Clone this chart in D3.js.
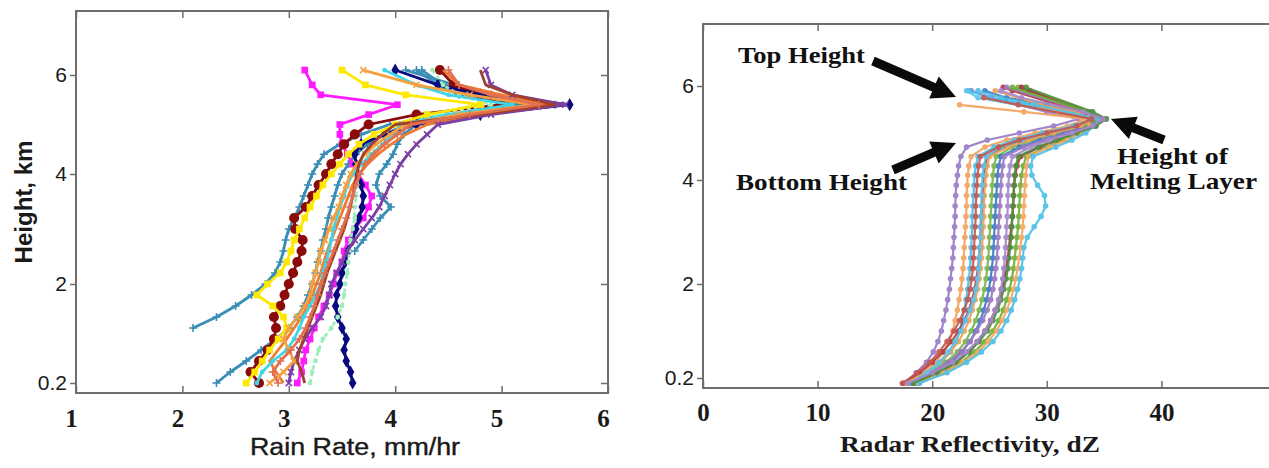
<!DOCTYPE html>
<html>
<head>
<meta charset="utf-8">
<script src="https://cdn.jsdelivr.net/npm/d3@7"></script>
<style>
  body { margin: 0; background: #fff; }
</style>
</head>
<body>
<svg id="chart" width="1269" height="468"></svg>
<script>
// ---- data ----
const heightTicks = [0.2, 2, 4, 6];
const rainTicks = [1, 2, 3, 4, 5, 6];
const reflTicks = [0, 10, 20, 30, 40];

// left panel: rain rate (mm/hr) at common height levels (km); null = no sample
const levelsL = [0.2, 0.4, 0.6, 0.8, 1.0, 1.2, 1.4, 1.6, 1.8, 2.0, 2.2, 2.4, 2.6, 2.8, 3.0,
  3.2, 3.4, 3.6, 3.8, 4.0, 4.2, 4.4, 4.6, 4.8, 5.0, 5.2, 5.4, 5.6, 5.8, 6.1];

const rainSeries = [
  [2.32, 2.45, 2.6, 2.74, 2.88, 3.0, 3.08, 3.14, 3.18, 3.22, 3.25, 3.27, 3.3, 3.32, 3.35, 3.37, 3.4, 3.43, 3.46, 3.5, 3.56, 3.63, 3.74, 3.9, 4.1, 4.55, 5.25, 4.7, 4.45, 4.25],
  [null, null, null, null, null, 2.1, 2.32, 2.5, 2.65, 2.78, 2.87, 2.92, 2.95, 2.97, 3.0, 3.05, 3.1, 3.14, 3.18, 3.22, 3.27, 3.33, 3.48, 3.68, 3.95, 4.5, 5.2, 4.6, 4.4, 4.2],
  [null, null, null, null, null, null, null, null, null, null, null, null, 3.62, 3.7, 3.78, 3.86, 3.96, 3.86, 3.82, 3.85, 3.92, 3.98, 4.02, 4.08, 4.2, 4.7, 5.5, 4.9, 4.55, 4.1],
  [3.08, 3.12, 3.14, 3.16, 3.2, 3.24, 3.28, 3.33, 3.38, 3.42, 3.45, 3.5, 3.52, 3.56, 3.62, 3.7, 3.75, 3.78, 3.72, 3.65, 3.6, 3.55, 3.5, 3.48, 3.48, 3.75, 4.02, 3.3, 3.22, 3.15],
  [2.72, 2.64, 2.72, 2.8, 2.86, 2.88, 2.86, 2.92, 2.96, 3.0, 3.04, 3.08, 3.12, 3.13, 3.06, 3.05, 3.16, 3.22, 3.28, 3.35, 3.4, 3.46, 3.52, 3.62, 3.75, 4.2, 5.0, 4.8, 4.55, 4.42],
  [3.6, 3.58, 3.54, 3.52, 3.54, 3.5, 3.46, 3.44, 3.45, 3.48, 3.5, 3.53, 3.56, 3.6, 3.63, 3.66, 3.69, 3.7, 3.68, 3.65, 3.63, 3.62, 3.68, 3.9, 4.2, 4.8, 5.64, 4.8, 4.4, 4.0],
  [3.2, 3.22, 3.25, 3.28, 3.32, 3.4, 3.46, 3.5, 3.52, 3.53, 3.55, 3.56, 3.57, 3.58, 3.6, 3.62, 3.62, 3.63, 3.64, 3.66, 3.7, 3.76, 3.88, 4.0, 4.1, 4.4, 4.9, 4.6, 4.45, 4.35],
  [2.6, 2.68, 2.75, 2.82, 2.9, 2.98, 2.95, 2.85, 2.7, 2.8, 2.92, 2.98, 3.02, 3.05, 3.1, 3.15, 3.2, 3.26, 3.32, 3.4, 3.48, 3.56, 3.66, 3.8, 4.0, 4.3, 4.8, 4.1, 3.72, 3.5],
  [2.95, 2.88, 2.82, 2.9, 2.98, 3.05, 3.12, 3.18, 3.22, 3.26, 3.3, 3.33, 3.36, 3.4, 3.44, 3.48, 3.52, 3.56, 3.6, 3.66, 3.74, 3.84, 3.96, 4.1, 4.3, 4.8, 5.42, 5.0, 4.6, 4.45],
  [3.0, 3.02, 3.05, 3.1, 3.15, 3.22, 3.3, 3.35, 3.38, 3.4, 3.45, 3.5, 3.55, 3.62, 3.7, 3.78, 3.85, 3.9, 3.95, 4.0, 4.05, 4.12, 4.2, 4.3, 4.4, 4.9, 5.6, 5.1, 4.9, 4.85],
  [2.7, 2.75, 2.85, 2.98, 3.05, 3.1, 3.14, 3.2, 3.25, 3.3, 3.32, 3.35, 3.38, 3.4, 3.42, 3.45, 3.48, 3.52, 3.55, 3.6, 3.68, 3.78, 3.88, 3.98, 4.05, 4.5, 5.1, 4.5, 4.2, 3.9],
  [2.82, 2.95, 3.05, 3.0, 2.95, 3.0, 3.08, 3.15, 3.2, 3.22, 3.25, 3.28, 3.3, 3.34, 3.38, 3.42, 3.47, 3.5, 3.54, 3.58, 3.64, 3.72, 3.82, 3.95, 4.1, 4.6, 5.3, 4.7, 4.2, 3.7],
  [3.15, 3.12, 3.08, 3.1, 3.14, 3.18, 3.22, 3.26, 3.3, 3.33, 3.36, 3.4, 3.44, 3.48, 3.52, 3.55, 3.58, 3.6, 3.62, 3.64, 3.66, 3.7, 3.78, 3.88, 4.0, 4.8, 5.5, 5.1, 4.85, 4.8],
  [2.9, 2.85, 2.92, 3.02, 3.1, 3.16, 3.2, 3.24, 3.27, 3.3, 3.34, 3.38, 3.42, 3.46, 3.5, 3.54, 3.57, 3.6, 3.63, 3.67, 3.72, 3.8, 3.9, 4.02, 4.15, 4.7, 5.35, 4.9, 4.6, 4.5]
];
const rainColors = ['#3a8db5', '#3a8db5', '#3a8db5', '#ff1aff', '#8b0a0a', '#0a0a80', '#9eeebc',
  '#ffe800', '#f07a30', '#7b3fa5', '#40d4e8', '#f5a040', '#a0402d', '#e07050'];
const rainMarkers = ['plus', 'plus', 'plus', 'square', 'circle', 'diamond', 'dot',
  'square', 'none', 'x', 'dot', 'x', 'none', 'plus'];

// right panel: reflectivity (dBZ) at common height levels (km); null = no sample
const levelsR = [0.1, 0.3, 0.5, 0.7, 0.9, 1.1, 1.3, 1.5, 1.7, 1.9, 2.1, 2.3, 2.5, 2.7, 2.9, 3.1,
  3.3, 3.5, 3.7, 3.9, 4.1, 4.3, 4.5, 4.7, 4.85, 5.0, 5.15, 5.3, 5.45, 5.6, 5.75, 5.9, 5.97];

const reflSeries = [
  [17.6, 18.6, 19.5, 20.1, 20.5, 20.8, 21.0, 21.2, 21.35, 21.5, 21.6, 21.7, 21.8, 21.85, 21.9, 21.95, 22.0, 22.0, 22.05, 22.1, 22.2, 22.3, 22.5, 23.0, 24.8, 27.6, 30.6, 32.8, 30.0, null, 25.2, 23.4, null],
  [17.8, 19.2, 20.3, 21.0, 21.5, 21.8, 22.0, 22.2, 22.35, 22.5, 22.6, 22.7, 22.75, 22.8, 22.85, 22.9, 22.95, 23.0, 23.0, 23.05, 23.1, 23.2, 23.4, 24.6, 26.5, 29.0, 31.8, 33.5, 28.0, 22.4, null, null, null],
  [18.0, 19.6, 20.8, 21.6, 22.1, 22.4, 22.6, 22.8, 22.95, 23.1, 23.2, 23.3, 23.35, 23.4, 23.45, 23.5, 23.5, 23.55, 23.6, 23.65, 23.7, 23.8, 24.0, 25.4, 27.2, 29.6, 32.3, 33.8, null, 28.5, 25.0, 23.2, null],
  [17.5, 18.9, 20.0, 20.9, 21.7, 22.3, 22.8, 23.2, 23.5, 23.7, 23.85, 24.0, 24.1, 24.15, 24.2, 24.25, 24.3, 24.35, 24.4, 24.45, 24.5, 24.6, 24.8, 26.2, 28.0, 30.4, 32.8, 34.2, 33.0, null, null, 27.0, 26.2],
  [18.2, 19.8, 21.2, 22.2, 22.9, 23.4, 23.8, 24.1, 24.35, 24.55, 24.7, 24.8, 24.9, 24.95, 25.0, 25.05, 25.1, 25.15, 25.2, 25.25, 25.3, 25.4, 25.6, 27.0, 28.8, 31.0, 33.3, 34.6, 33.8, null, null, null, 27.5],
  [18.4, 20.2, 21.6, 22.6, 23.3, 23.8, 24.2, 24.5, 24.75, 24.95, 25.1, 25.2, 25.3, 25.35, 25.4, 25.45, 25.5, 25.55, 25.6, 25.65, 25.7, 25.8, 26.0, 27.6, 29.4, 31.5, 33.6, 34.8, null, 30.0, 26.5, 24.6, null],
  [17.7, 19.4, 20.7, 21.6, 22.3, 22.8, 23.2, 23.5, 23.75, 23.95, 24.1, 24.2, 24.3, 24.35, 24.4, 24.45, 24.5, 24.5, 24.55, 24.6, 24.7, 24.8, 25.0, 26.6, 28.4, 30.6, 33.0, 34.4, 32.5, 29.5, null, 25.5, null],
  [18.0, 19.9, 21.4, 22.5, 23.3, 23.9, 24.4, 24.8, 25.1, 25.3, 25.45, 25.55, 25.65, 25.7, 25.75, 25.8, 25.85, 25.9, 25.95, 26.0, 26.05, 26.15, 26.3, 28.0, 29.8, 31.8, 33.8, 35.0, 33.5, null, null, null, 26.5],
  [18.1, 19.5, 20.6, 21.4, 22.0, 22.5, 22.9, 23.3, 23.6, 23.8, 23.95, 24.05, 24.1, 24.15, 24.2, 24.2, 24.25, 24.3, 24.3, 24.35, 24.4, 24.5, 24.7, 26.0, 27.8, 30.0, 32.5, 34.0, null, null, 24.0, 23.0, null],
  [18.5, 20.6, 22.1, 23.2, 24.0, 24.6, 25.1, 25.5, 25.85, 26.1, 26.3, 26.45, 26.6, 26.7, 26.8, 26.9, 27.0, 27.05, 27.1, 27.15, 27.25, 27.4, 27.7, 29.4, 31.0, 32.8, 34.2, 34.8, 33.4, null, null, 28.5, 27.8],
  [18.6, 20.8, 22.5, 23.7, 24.6, 25.3, 25.8, 26.2, 26.5, 26.75, 26.95, 27.1, 27.2, 27.3, 27.4, 27.5, 27.55, 27.6, 27.65, 27.7, 27.8, 27.95, 28.2, 30.0, 31.5, 32.8, 33.6, 34.2, 33.6, null, null, null, 27.0],
  [18.8, 21.0, 22.7, 24.0, 24.9, 25.6, 26.1, 26.5, 26.85, 27.1, 27.3, 27.45, 27.6, 27.7, 27.8, 27.9, 27.95, 28.0, 28.05, 28.1, 28.15, 28.25, 28.4, 30.2, 31.8, 33.0, 33.8, 33.2, 31.0, 29.0, null, null, null],
  [18.9, 21.3, 23.0, 24.3, 25.3, 26.0, 26.5, 26.9, 27.2, 27.45, 27.65, 27.8, 27.9, 28.0, 28.3, 28.9, 29.5, 29.9, 29.8, 29.2, 28.7, 28.6, 28.8, 30.8, 32.2, 33.4, 34.2, 34.5, null, 29.0, 26.0, 24.0, null],
  [18.3, 20.4, 22.0, 23.2, 24.1, 24.8, 25.3, 25.7, 26.0, 26.25, 26.45, 26.6, 26.7, 26.8, 26.9, 26.95, 27.0, 27.05, 27.1, 27.15, 27.2, 27.3, 27.5, 29.2, 30.8, 32.6, 34.3, 35.2, 34.0, null, null, null, 28.2],
  [17.4, 18.7, 19.8, 20.6, 21.3, 21.9, 22.4, 22.8, 23.1, 23.3, 23.45, 23.55, 23.6, 23.65, 23.7, 23.75, 23.8, 23.8, 23.85, 23.9, 23.95, 24.05, 24.2, 25.8, 27.6, 30.0, 32.6, 33.9, null, 27.5, 24.5, null, null],
  [17.9, 20.0, 21.8, 23.0, 23.9, 24.6, 25.1, 25.5, 25.8, 26.0, 26.15, 26.25, 26.35, 26.4, 26.45, 26.5, 26.55, 26.6, 26.6, 26.65, 26.7, 26.8, 27.0, 28.6, 30.2, 32.2, 34.0, 34.9, 33.2, null, 27.8, 26.0, null]
];
const reflColors = ['#9a7cc6', '#f2a35e', '#4dbde9', '#b23a3f', '#7ab648', '#3c7dc4', '#f0a055', '#9b79c2',
  '#5cc5ec', '#a8323a', '#6fae3c', '#f4a962', '#4ebfe8', '#4f8f3e', '#c4564f', '#a588cc'];

// ---- drawing ----
const svg = d3.select('#chart');
const sans = '"Liberation Sans", Arial, sans-serif';
const serif = '"Liberation Serif", "Times New Roman", serif';
const frameColor = '#6e6e6e';

// custom stroke symbols (MATLAB-like + and x markers)
const plusType = {
  draw(ctx, size) {
    const r = Math.sqrt(size) / 2;
    ctx.moveTo(-r, 0); ctx.lineTo(r, 0);
    ctx.moveTo(0, -r); ctx.lineTo(0, r);
  }
};
const timesType = {
  draw(ctx, size) {
    const r = Math.sqrt(size) / 2.6;
    ctx.moveTo(-r, -r); ctx.lineTo(r, r);
    ctx.moveTo(-r, r); ctx.lineTo(r, -r);
  }
};

function arrowPath(x1, y1, x2, y2, sw, hl, hw) {
  const len = Math.hypot(x2 - x1, y2 - y1);
  const ux = (x2 - x1) / len, uy = (y2 - y1) / len;
  const nx = -uy, ny = ux;
  const bx = x2 - ux * hl, by = y2 - uy * hl;
  const pts = [
    [x1 + nx * sw / 2, y1 + ny * sw / 2],
    [bx + nx * sw / 2, by + ny * sw / 2],
    [bx + nx * hw / 2, by + ny * hw / 2],
    [x2, y2],
    [bx - nx * hw / 2, by - ny * hw / 2],
    [bx - nx * sw / 2, by - ny * sw / 2],
    [x1 - nx * sw / 2, y1 - ny * sw / 2]
  ];
  return 'M' + pts.map(p => p.join(',')).join('L') + 'Z';
}

function frameAxes(g, x, y, box, xTicks, opts) {
  const fmt = d3.format('~g');
  g.append('rect')
    .attr('x', box.left).attr('y', box.top)
    .attr('width', box.right - box.left).attr('height', box.bottom - box.top)
    .attr('fill', 'none').attr('stroke', frameColor).attr('stroke-width', 2);

  // inward tick marks
  const inner = [
    [d3.axisBottom(x).tickValues(xTicks), `translate(0,${box.bottom})`],
    [d3.axisTop(x).tickValues(xTicks), `translate(0,${box.top})`],
    [d3.axisRight(y).tickValues(heightTicks), `translate(${box.right},0)`]
  ];
  inner.forEach(([ax, tr]) => {
    const a = g.append('g').attr('transform', tr)
      .call(ax.tickSize(-7).tickFormat(''));
    a.select('.domain').remove();
    a.selectAll('line').attr('stroke', frameColor).attr('stroke-width', 1.5);
  });

  // left axis: outward ticks with labels
  const yAx = g.append('g').attr('transform', `translate(${box.left},0)`)
    .call(d3.axisLeft(y).tickValues(heightTicks).tickSize(6).tickPadding(3).tickFormat(fmt));
  yAx.select('.domain').remove();
  yAx.selectAll('line').attr('stroke', frameColor).attr('stroke-width', 1.5);
  yAx.selectAll('text')
    .attr('font-family', sans).attr('font-size', 21).attr('fill', '#1a1a1a');

  // bottom tick labels (bold serif)
  const xAx = g.append('g').attr('transform', `translate(0,${box.bottom})`)
    .call(d3.axisBottom(x).tickValues(xTicks).tickSize(0).tickPadding(opts.labelPad).tickFormat(fmt));
  xAx.select('.domain').remove();
  xAx.selectAll('text')
    .attr('font-family', serif).attr('font-weight', 'bold').attr('font-size', 25)
    .attr('fill', '#1a1a1a').attr('dx', opts.labelDx);
}

// ---------- left panel ----------
const boxL = { left: 76, right: 608, top: 11, bottom: 393 };
const xL = d3.scaleLinear().domain([1, 6]).range([boxL.left, boxL.right]);
const yL = d3.scaleLinear().domain(heightTicks).range([383, 284, 174, 75]);

const gL = svg.append('g');
frameAxes(gL, xL, yL, boxL, rainTicks, { labelPad: 16, labelDx: -5 });

const lineL = d3.line().x(d => xL(d[0])).y(d => yL(d[1]));

rainSeries.forEach((vals, i) => {
  const pts = vals.map((v, j) => [v, levelsL[j]]).filter(d => d[0] != null);
  const color = rainColors[i];
  const mk = rainMarkers[i];
  const sg = gL.append('g');
  sg.append('path')
    .attr('d', lineL(pts))
    .attr('fill', 'none')
    .attr('stroke', color)
    .attr('stroke-width', 2.8)
    .attr('stroke-dasharray', i === 6 ? '4,3' : null)
    .attr('stroke-linejoin', 'round');
  if (mk === 'none') return;
  const sym = d3.symbol();
  if (mk === 'plus') sym.type(plusType).size(64);
  else if (mk === 'x') sym.type(timesType).size(64);
  else if (mk === 'circle') sym.type(d3.symbolCircle).size(80);
  else if (mk === 'diamond') sym.type(d3.symbolDiamond).size(50);
  else if (mk === 'square') sym.type(d3.symbolSquare).size(45);
  else sym.type(d3.symbolCircle).size(18);
  const stroked = mk === 'plus' || mk === 'x';
  sg.selectAll('path.mk')
    .data(pts)
    .join('path')
    .attr('class', 'mk')
    .attr('transform', d => `translate(${xL(d[0])},${yL(d[1])})`)
    .attr('d', sym)
    .attr('fill', stroked ? 'none' : color)
    .attr('stroke', stroked ? color : 'none')
    .attr('stroke-width', 1.6);
});

gL.append('text')
  .attr('transform', 'translate(32,202) rotate(-90)')
  .attr('text-anchor', 'middle')
  .attr('font-family', sans).attr('font-weight', 'bold').attr('font-size', 24)
  .attr('fill', '#1a1a1a')
  .attr('textLength', 123).attr('lengthAdjust', 'spacingAndGlyphs')
  .text('Height, km');

gL.append('text')
  .attr('x', 250).attr('y', 455)
  .attr('font-family', sans).attr('font-size', 23).attr('fill', '#1a1a1a')
  .attr('stroke', '#1a1a1a').attr('stroke-width', 0.4)
  .attr('textLength', 210).attr('lengthAdjust', 'spacingAndGlyphs')
  .text('Rain Rate, mm/hr');

// ---------- right panel ----------
const boxR = { left: 703, right: 1276, top: 24, bottom: 388 };
const xR = d3.scaleLinear().domain([0, 50]).range([boxR.left, boxR.right]);
const yR = d3.scaleLinear().domain(heightTicks).range([378, 284, 180, 86]);

const gR = svg.append('g');
frameAxes(gR, xR, yR, boxR, reflTicks, { labelPad: 15, labelDx: 0 });

const lineR = d3.line().x(d => xR(d[0])).y(d => yR(d[1]));

reflSeries.forEach((vals, i) => {
  const pts = vals.map((v, j) => [v, levelsR[j]]).filter(d => d[0] != null);
  const sg = gR.append('g').attr('opacity', 0.92);
  sg.append('path')
    .attr('d', lineR(pts))
    .attr('fill', 'none')
    .attr('stroke', reflColors[i])
    .attr('stroke-width', 2.2)
    .attr('stroke-linejoin', 'round');
  sg.selectAll('circle')
    .data(pts)
    .join('circle')
    .attr('cx', d => xR(d[0])).attr('cy', d => yR(d[1]))
    .attr('r', 2.8)
    .attr('fill', reflColors[i]);
});

gR.append('text')
  .attr('x', 840).attr('y', 452)
  .attr('font-family', serif).attr('font-weight', 'bold').attr('font-size', 23)
  .attr('fill', '#1a1a1a')
  .attr('textLength', 260).attr('lengthAdjust', 'spacingAndGlyphs')
  .text('Radar Reflectivity, dZ');

// annotations
const notes = [
  { t: 'Top Height', x: 738, y: 63, w: 127 },
  { t: 'Bottom Height', x: 736, y: 190, w: 171 },
  { t: 'Height of', x: 1117, y: 164, w: 111 },
  { t: 'Melting Layer', x: 1090, y: 189, w: 167 }
];
gR.selectAll('text.note')
  .data(notes)
  .join('text')
  .attr('class', 'note')
  .attr('x', d => d.x).attr('y', d => d.y)
  .attr('font-family', serif).attr('font-weight', 'bold').attr('font-size', 23)
  .attr('fill', '#111')
  .attr('textLength', d => d.w).attr('lengthAdjust', 'spacingAndGlyphs')
  .text(d => d.t);

const arrows = [
  [873, 61, 956, 97],
  [893, 170, 956, 143],
  [1164, 140, 1111, 119]
];
gR.selectAll('path.arrow')
  .data(arrows)
  .join('path')
  .attr('class', 'arrow')
  .attr('d', d => arrowPath(d[0], d[1], d[2], d[3], 9, 24, 24))
  .attr('fill', '#0a0a0a');
</script>
</body>
</html>
